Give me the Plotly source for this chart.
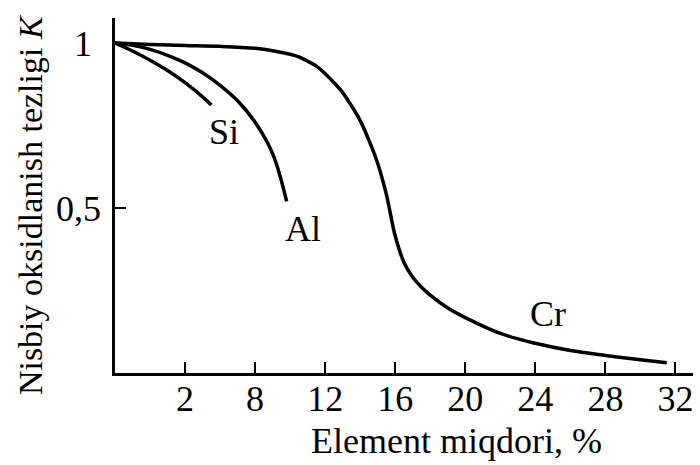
import plotly.graph_objects as go

# Relative oxidation rate K versus alloying element content (%)
si_x = [0, 1, 2, 3, 4, 5, 5.5]
si_y = [1.0, 0.976, 0.948, 0.917, 0.880, 0.837, 0.812]

al_x = [0, 1, 2, 3, 4, 5, 6, 7, 8, 9, 9.8]
al_y = [1.0, 0.993, 0.981, 0.963, 0.94, 0.91, 0.872, 0.825, 0.76, 0.665, 0.52]

cr_x = [0, 2, 4, 6, 8, 9, 10, 10.5, 11, 11.5, 12, 12.5, 13, 13.5, 14, 14.5,
        15, 15.5, 16, 16.5, 17, 17.5, 18, 19, 20, 22, 24, 26, 28, 30, 31.5]
cr_y = [1.0, 0.996, 0.993, 0.99, 0.984, 0.977, 0.966, 0.958, 0.945, 0.93,
        0.907, 0.88, 0.85, 0.81, 0.765, 0.705, 0.635, 0.54, 0.415, 0.335,
        0.29, 0.26, 0.236, 0.197, 0.168, 0.12, 0.09, 0.068, 0.053, 0.04, 0.031]

x_tickvals = [4, 8, 12, 16, 20, 24, 28, 32]
x_ticktext = ["2", "8", "12", "16", "20", "24", "28", "32"]
y_tickvals = [0.5, 1.0]
y_ticktext = ["0,5", "1\u00a0"]

curve_labels = [("Si", 6.23, 0.73), ("Al", 10.74, 0.436), ("Cr", 24.7, 0.18)]

FONT = "Liberation Serif"
fig = go.Figure()
for xs, ys in [(si_x, si_y), (al_x, al_y), (cr_x, cr_y)]:
    fig.add_trace(go.Scatter(
        x=xs, y=ys, mode="lines",
        line=dict(color="black", width=3.5, shape="spline", smoothing=1.0),
        showlegend=False, hoverinfo="skip",
    ))

for text, lx, ly in curve_labels:
    fig.add_annotation(x=lx, y=ly, text=text, showarrow=False,
                       font=dict(family=FONT, size=36, color="black"))

fig.add_annotation(xref="paper", yref="paper", x=-0.147, y=0.473,
                   text="Nisbiy oksidlanish tezligi <i>K</i>", textangle=-90,
                   showarrow=False, xanchor="center", yanchor="middle",
                   font=dict(family=FONT, size=34, color="black"))
fig.add_annotation(xref="x", yref="paper", x=19.5, y=0, yshift=-68,
                   text="Element miqdori, %", showarrow=False,
                   xanchor="center", yanchor="middle",
                   font=dict(family=FONT, size=36, color="black"))

axis_common = dict(
    showline=True, linecolor="black", linewidth=2.5, mirror=False,
    showgrid=False, zeroline=False,
    ticks="inside", ticklen=11, tickwidth=2, tickcolor="black",
    tickfont=dict(family=FONT, size=36, color="black"),
)
fig.update_xaxes(range=[0, 33], tickmode="array", tickvals=x_tickvals,
                 ticktext=x_ticktext, ticklabelstandoff=-8, **axis_common)
fig.update_yaxes(range=[0, 1.076], tickmode="array", tickvals=y_tickvals,
                 ticktext=y_ticktext, ticklabelstandoff=4, **axis_common)

fig.update_layout(
    width=700, height=465,
    margin=dict(l=115, r=7, t=18, b=92),
    paper_bgcolor="white", plot_bgcolor="white",
)
fig.write_html("out.html")
